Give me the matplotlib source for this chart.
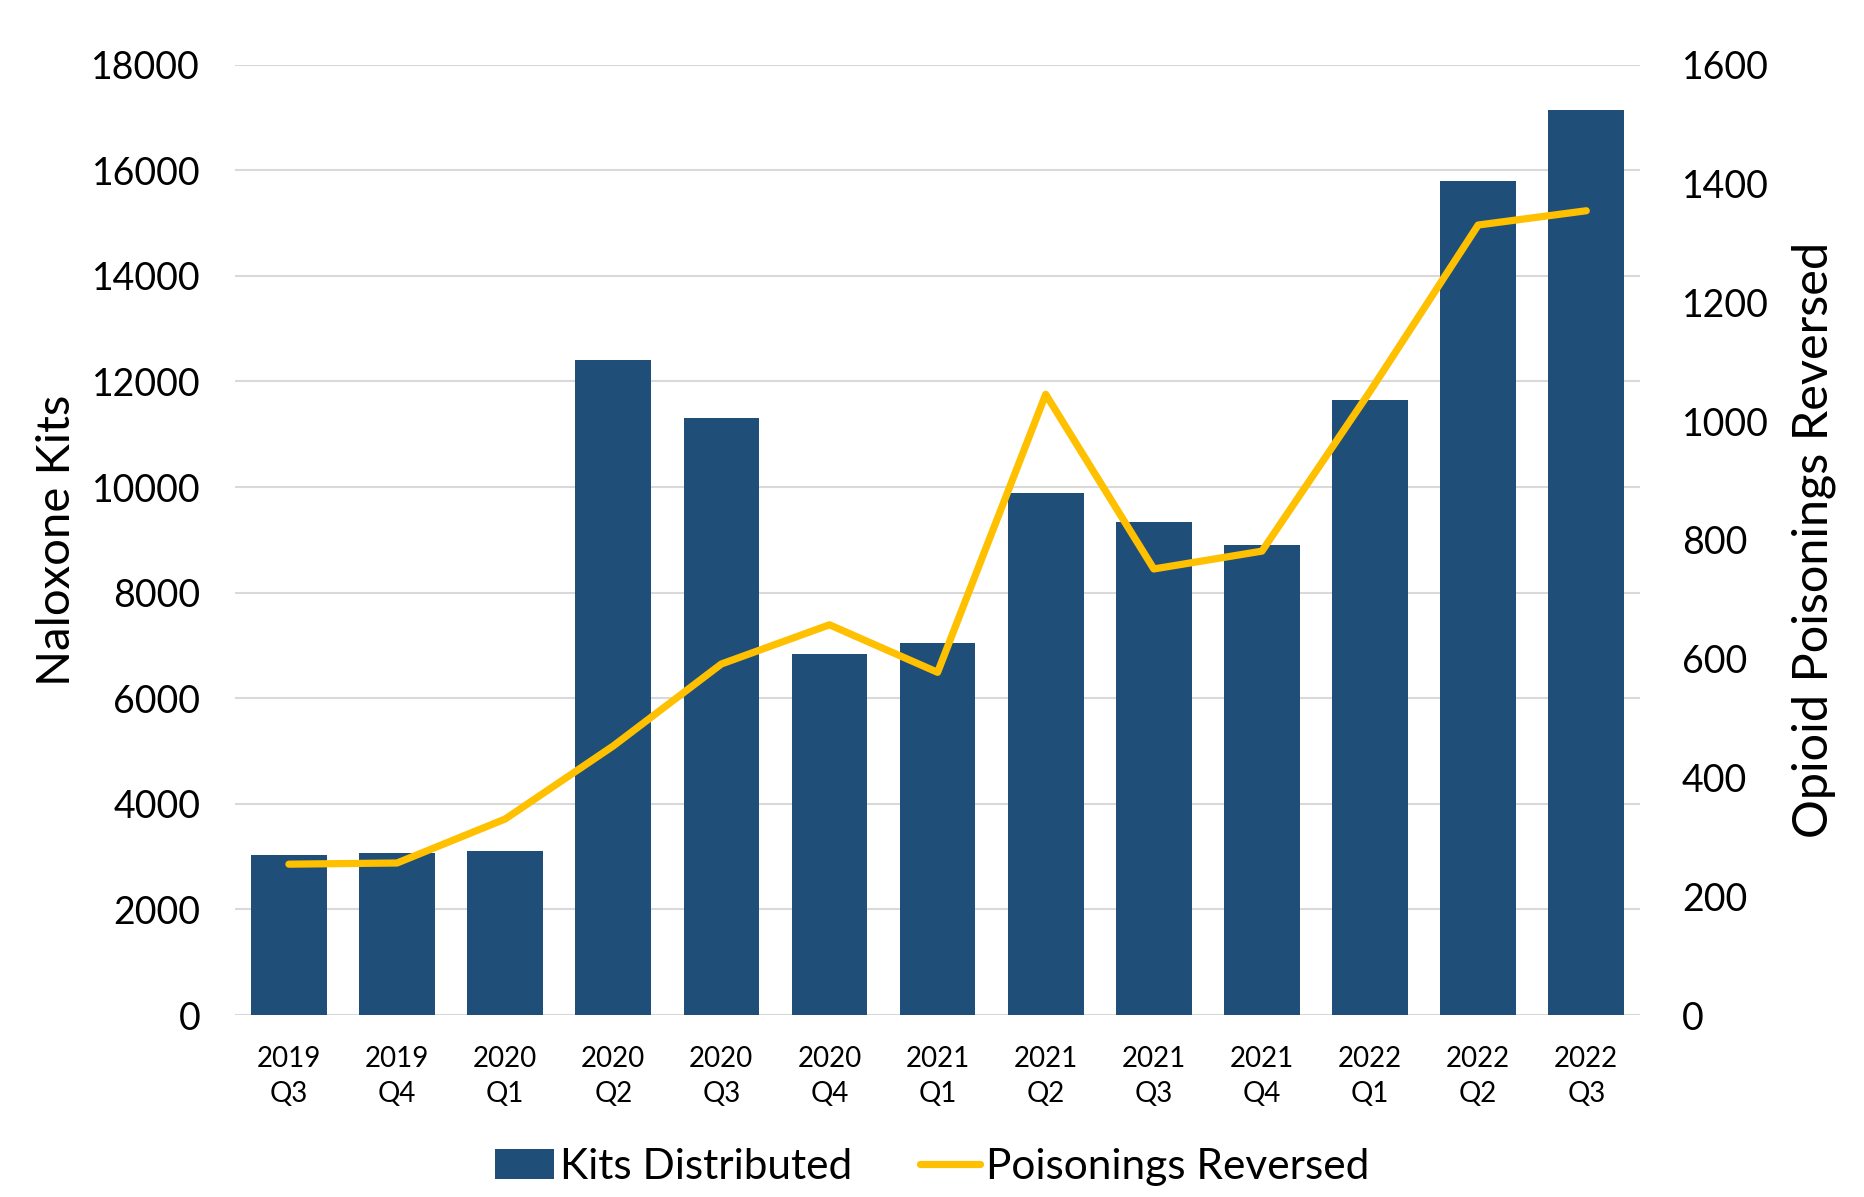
import matplotlib.pyplot as plt
import numpy as np

# quarters and values
quarters = ['2019\nQ3', '2019\nQ4', '2020\nQ1', '2020\nQ2', '2020\nQ3', '2020\nQ4', '2021\nQ1',
            '2021\nQ2', '2021\nQ3', '2021\nQ4', '2022\nQ1', '2022\nQ2', '2022\nQ3']
kits = [3040, 3060, 3110, 12410, 11310, 6830, 7050, 9890, 9330, 8900, 11650, 15790, 17140]
reversed_ = [254, 256, 330, 453, 591, 657, 577, 1045, 751, 781, 1050, 1330, 1354]

plt.rcParams['font.family'] = ['Lato', 'DejaVu Sans']

bar_color = '#1f4e79'
line_color = '#ffc000'

fig = plt.figure(figsize=(18.64, 11.97), dpi=100)
ax = fig.add_axes([0.126, 0.152, 0.754, 0.794])
ax2 = ax.twinx()

x = np.arange(len(quarters))
ax.bar(x, kits, width=0.7, color=bar_color, label='Kits Distributed', zorder=2)
ax2.plot(x, reversed_, color=line_color, lw=5.2, solid_capstyle='round',
         label='Poisonings Reversed', zorder=3)

ax.set_xlim(-0.5, 12.5)
ax.set_ylim(0, 18000)
ax.set_yticks(range(0, 18001, 2000))
ax2.set_ylim(0, 1600)
ax2.set_yticks(range(0, 1601, 200))

ax.grid(axis='y', color='#d9d9d9', lw=1.5, zorder=0)
ax.set_axisbelow(True)
for a in (ax, ax2):
    for s in a.spines.values():
        s.set_visible(False)
    a.tick_params(length=0)

ax.set_xticks(x)
ax.set_xticklabels(quarters, fontsize=20, linespacing=1.45)
ax.tick_params(axis='x', pad=22)
ax.tick_params(axis='y', labelsize=27, pad=25)
ax2.tick_params(axis='y', labelsize=27, pad=30)

ax.set_ylabel('Naloxone Kits', fontsize=34, labelpad=10)
ax2.set_ylabel('Opioid Poisonings Reversed', fontsize=35, labelpad=16)

# put line axis on top so the line sits over bars
ax2.set_zorder(ax.get_zorder() + 1)
ax2.patch.set_visible(False)

h1, l1 = ax.get_legend_handles_labels()
h2, l2 = ax2.get_legend_handles_labels()
fig.legend(h1 + h2, l1 + l2, loc='center', bbox_to_anchor=(0.5, 0.025), ncol=2,
           frameon=False, fontsize=30.5, handlelength=1.4, handletextpad=0.15, columnspacing=1.6)

fig.savefig('out.png', dpi=100)
